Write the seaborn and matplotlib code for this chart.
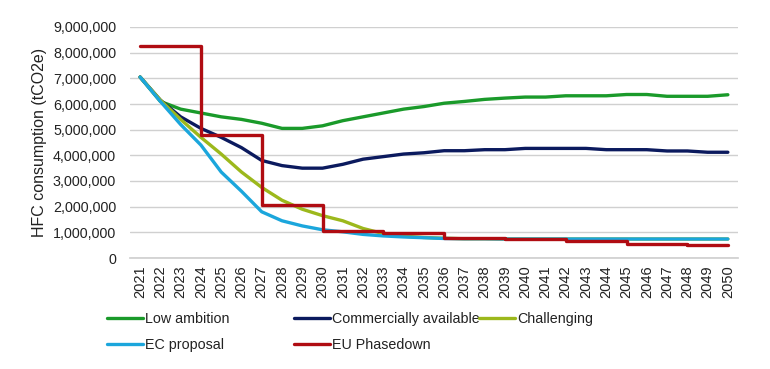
import matplotlib
matplotlib.use("Agg")
import matplotlib.pyplot as plt
import seaborn as sns
import pandas as pd
import numpy as np
from matplotlib.ticker import FuncFormatter

years = list(range(2021, 2051))

low_ambition = [7.05, 6.1, 5.8, 5.65, 5.5, 5.4, 5.25, 5.05, 5.05, 5.15,
                5.35, 5.5, 5.65, 5.8, 5.9, 6.03, 6.1, 6.18, 6.23, 6.27,
                6.27, 6.32, 6.32, 6.32, 6.37, 6.37, 6.3, 6.3, 6.3, 6.36]
commercially_available = [7.05, 6.15, 5.5, 5.05, 4.7, 4.3, 3.8, 3.6, 3.5, 3.5,
                          3.65, 3.85, 3.95, 4.05, 4.1, 4.18, 4.18, 4.22, 4.22, 4.27,
                          4.27, 4.27, 4.27, 4.22, 4.22, 4.22, 4.17, 4.17, 4.12, 4.12]
challenging = [7.05, 6.15, 5.4, 4.7, 4.05, 3.35, 2.75, 2.25, 1.9, 1.65,
               1.45, 1.15, 0.95, 0.85, 0.8, 0.77, 0.75, 0.75, 0.74, 0.74,
               0.74, 0.74, 0.74, 0.74, 0.74, 0.74, 0.74, 0.74, 0.74, 0.74]
ec_proposal = [7.05, 6.1, 5.2, 4.4, 3.35, 2.6, 1.8, 1.45, 1.25, 1.1,
               1.02, 0.92, 0.86, 0.82, 0.79, 0.76, 0.75, 0.75, 0.74, 0.74,
               0.74, 0.74, 0.74, 0.74, 0.74, 0.74, 0.74, 0.74, 0.74, 0.74]
eu_phasedown = [8.25, 8.25, 8.25, 4.8, 4.8, 4.8, 2.05, 2.05, 2.05, 1.05,
                1.05, 1.05, 0.96, 0.96, 0.96, 0.78, 0.78, 0.78, 0.73, 0.73,
                0.73, 0.65, 0.65, 0.65, 0.56, 0.56, 0.56, 0.5, 0.5, 0.5]

series_names = ["Low ambition", "Commercially available", "Challenging",
                "EC proposal", "EU Phasedown"]
series_values = [low_ambition, commercially_available, challenging,
                 ec_proposal, eu_phasedown]
colors = {"Low ambition": "#1a9a2a", "Commercially available": "#0b1a5e",
          "Challenging": "#9cb81c", "EC proposal": "#1ba6dc",
          "EU Phasedown": "#b00c12"}

rows = []
for name, vals in zip(series_names, series_values):
    for y, v in zip(years, vals):
        rows.append({"year": y, "value": v * 1e6, "series": name})
df = pd.DataFrame(rows)

sns.set_theme(style="white")
plt.rcParams['font.family'] = ['Liberation Sans', 'DejaVu Sans']

fig = plt.figure(figsize=(7.7, 3.69), dpi=100)
ax = fig.add_axes([130/770, 1-258/369, (738-130)/770, (258-27)/369])

handles = {}
for name in series_names:
    sub = df[df.series == name]
    kw = {}
    if name == "EU Phasedown":
        kw["drawstyle"] = "steps-post"
    sns.lineplot(data=sub, x="year", y="value", ax=ax, color=colors[name],
                 linewidth=2.4, label=name, legend=False, **kw)
    handles[name] = ax.lines[-1]

ax.set_xlim(2020.5, 2050.5)
ax.set_ylim(0, 9e6)
ax.set_yticks(np.arange(0, 9e6 + 1, 1e6))
ax.yaxis.set_major_formatter(FuncFormatter(lambda v, p: f"{int(round(v)):,}"))
ax.set_xticks(years)
ax.set_xticklabels([str(y) for y in years], rotation=90, fontsize=10.5, color="#222222")
ax.tick_params(axis="y", labelsize=10.3, colors="#222222", length=0, pad=10)
ax.tick_params(axis="x", length=0, pad=5)
ax.grid(axis="y", color="#d0d0d0", linewidth=1)
ax.set_axisbelow(True)
for s in ["top", "right", "left"]:
    ax.spines[s].set_visible(False)
ax.spines["bottom"].set_color("#d0d0d0")
ax.set_xlabel("")
ax.set_ylabel("HFC consumption (tCO2e)", fontsize=11.5, color="#222222")
ax.yaxis.set_label_coords((47 - 130) / 608, 0.5)

legend_cols = [(107, ["Low ambition", "EC proposal"]),
               (294, ["Commercially available", "EU Phasedown"]),
               (479, ["Challenging"])]
for x0, names in legend_cols:
    leg = fig.legend([handles[n] for n in names], names,
                     loc="upper left", bbox_to_anchor=(x0/770, 1-312/369),
                     frameon=False, fontsize=10.3, handlelength=2.5,
                     handletextpad=0.15, borderaxespad=0, borderpad=0,
                     labelspacing=0.85)
    for t in leg.get_texts():
        t.set_color("#222222")

fig.savefig("out.png", dpi=100)
